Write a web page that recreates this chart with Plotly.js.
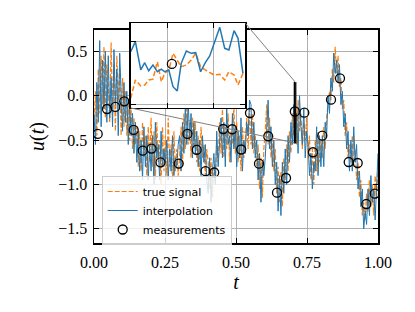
<!DOCTYPE html>
<html><head><meta charset="utf-8">
<script src="https://cdn.plot.ly/plotly-3.0.1.min.js"></script>
<style>html,body{margin:0;padding:0;background:#fff}</style>
</head><body><div id="chart" style="width:415px;height:312px"></div>
<script>
// ---- data ----
const trueSignal = [
 -0.35, 0.05, -0.45, 0.30, -0.20, 0.45, -0.10, 0.55, -0.25, 0.35,
 0.10, -0.30, 0.60, -0.20, 0.35, -0.40, 0.45, -0.05, 0.30, -0.45,
 0.20, -0.35, 0.05, -0.45, -0.05, -0.50, -0.15, -0.60, -0.25, -0.55,
 -0.35, -0.80, -0.40, -0.85, -0.30, -0.70, -0.45, -0.90, -0.35, -0.75,
 -0.25, -0.80, -0.40, -0.95, -0.30, -0.75, -0.50, -1.00, -0.35, -0.85,
 -0.45, -0.90, -0.25, -0.80, -0.55, -0.95, -0.40, -0.85, -0.60, -0.90,
 -0.70, -0.35, -0.80, -0.20, -0.60, -0.15, -0.55, -0.30, -0.70, -0.25,
 -0.60, -0.30, -0.75, -0.45, -0.85, -0.35, -0.70, -0.55, -0.90, -0.60,
 -0.75, -1.05, -0.70, -1.15, -0.80, -0.95, -0.50, -0.75, -0.30, -0.65,
 -0.15, -0.70, -0.35, -0.60, -0.20, -0.75, -0.40, -0.55, -0.10, -0.65,
 -0.30, -0.75, -0.45, -0.85, -0.35, -0.70, -0.50, -0.25, -0.60, -0.15,
 -0.55, -0.20, -0.65, -0.45, -0.80, -0.55, -1.05, -0.70, -1.15, -0.60,
 -0.40, -0.10, -0.55, -0.25, -0.70, -0.45, -0.85, -0.60, -1.10, -0.80,
 -1.20, -0.85, -1.25, -0.70, -0.95, -0.55, -0.85, -0.40, -0.65, -0.20,
 -0.45, -0.15, -0.55, -0.05, -0.40, -0.20, -0.60, -0.30, -0.50, -0.25,
 -0.70, -0.45, -0.95, -0.60, -1.00, -0.50, -0.85, -0.40, -0.75, -0.50,
 -0.70, -0.35, -0.60, -0.25, -0.10, 0.05, -0.05, 0.30, 0.15, 0.55,
 0.25, 0.45, 0.10, 0.20, -0.15, -0.05, -0.45, -0.30, -0.70, -0.55,
 -0.75, -0.45, -0.80, -0.60, -0.95, -0.75, -1.15, -0.95, -1.35, -1.20,
 -1.40, -1.10, -1.30, -0.95, -1.25, -1.00, -1.35, -0.90, -1.15, -0.80
];
const interpolation = [
 -0.20, -0.55, 0.15, -0.30, 0.62, -0.35, 0.40, -0.15, 0.50, -0.30,
 0.45, -0.25, 0.20, -0.35, 0.52, -0.10, 0.30, -0.45, 0.48, 0.00,
 -0.40, 0.15, -0.30, 0.05, -0.55, -0.10, -0.45, -0.20, -0.65, -0.30,
 -0.75, -0.40, -0.85, -0.50, -0.95, -0.35, -0.80, -0.45, -0.95, -0.55,
 -0.85, -0.45, -1.00, -0.30, -0.70, -0.55, -0.95, -0.40, -0.80, -0.60,
 -0.75, -0.50, -0.95, -0.60, -0.85, -0.45, -0.90, -0.70, -0.80, -0.55,
 -0.45, -0.85, -0.30, -0.65, -0.10, -0.55, -0.05, -0.50, -0.20, -0.70,
 -0.30, -0.65, -0.40, -0.80, -0.50, -0.90, -0.45, -0.75, -0.55, -0.95,
 -1.10, -0.70, -1.20, -0.85, -0.65, -1.00, -0.40, -0.80, -0.55, -0.25,
 -0.70, -0.30, -0.80, -0.15, -0.55, -0.45, -0.75, -0.20, -0.60, -0.35,
 -0.80, -0.40, -0.70, -0.25, -0.85, -0.50, -0.65, -0.30, -0.45, -0.05,
 -0.10, -0.60, -0.30, -0.70, -0.50, -0.95, -0.65, -1.20, -0.75, -0.90,
 -0.70, -0.30, -0.05, -0.60, -0.35, -0.80, -0.50, -1.00, -0.75, -1.30,
 -0.90, -1.35, -0.75, -1.10, -0.60, -1.00, -0.45, -0.75, -0.30, -0.55,
 -0.10, -0.50, -0.20, -0.65, 0.00, -0.35, -0.55, -0.15, -0.70, -0.40,
 -0.55, -0.90, -0.65, -1.05, -0.75, -0.85, -0.35, -0.90, -0.45, -0.80,
 -0.45, -0.80, -0.30, -0.45, 0.00, -0.20, 0.20, 0.05, 0.48, 0.25,
 0.40, 0.15, 0.35, -0.10, 0.05, -0.35, -0.20, -0.60, -0.40, -0.85,
 -0.50, -0.85, -0.35, -0.75, -0.55, -1.05, -0.85, -1.25, -1.05, -1.50,
 -1.30, -1.45, -1.05, -1.35, -0.90, -1.20, -1.05, -1.40, -0.95, -0.65
];
const measT = [0.0130, 0.0458, 0.0750, 0.1067, 0.1398, 0.1715, 0.2025, 0.2342, 0.2982, 0.3292,
 0.3616, 0.3926, 0.4232, 0.4549, 0.4866, 0.5183, 0.5493, 0.5810, 0.6134, 0.6444,
 0.6761, 0.7072, 0.7405, 0.7711, 0.8039, 0.8345, 0.8662, 0.8968, 0.9285, 0.9588, 0.9884];
const measU = [-0.431, -0.150, -0.127, -0.063, -0.386, -0.619, -0.595, -0.750, -0.764, -0.431,
 -0.609, -0.850, -0.865, -0.375, -0.378, -0.606, -0.195, -0.766, -0.457, -1.092,
 -0.927, -0.178, -0.191, -0.637, -0.450, -0.045, 0.196, -0.747, -0.758, -1.220, -1.104];

const insetT = [0.70544, 0.70564, 0.70587, 0.70604, 0.70621, 0.70639, 0.70658, 0.70675, 0.70689, 0.70707,
 0.70725, 0.70743, 0.70760, 0.70782, 0.70803, 0.70822, 0.70843, 0.70863, 0.70882, 0.70900,
 0.70925, 0.70946, 0.70964, 0.70986, 0.71003, 0.71024];
const insetTrue = [-0.453, -0.306, -0.354, -0.346, -0.306, -0.300, -0.160, -0.320, -0.253, -0.226,
 -0.093, -0.146, -0.200, -0.186, -0.146, -0.093, -0.200, -0.226, -0.248, -0.266,
 -0.261, -0.306, -0.240, -0.266, -0.346, -0.253];
const insetInterp = [-0.080, 0.000, -0.226, -0.168, -0.232, -0.186, -0.240, -0.220, -0.240, -0.226,
 -0.360, -0.394, -0.173, -0.074, -0.093, -0.088, -0.240, -0.168, -0.114, -0.013,
 0.115, -0.053, -0.066, 0.088, 0.027, -0.253];

const xTickVals = [0, 0.25, 0.5, 0.75, 1.0];
const yTickVals = [-1.5, -1.0, -0.5, 0.0, 0.5];
const insetXTicks = [0.707, 0.709];
const insetYTicks = [-0.5, 0.0];

// ---- layout constants ----
const xRange = [0, 1];
const yRange = [-1.659, 0.740];
const mainYDomain = [0, 0.9552];
const insetXRange = [0.70544, 0.71034];
const insetYRange = [-0.530, 0.147];
const insetXDomain = [0.1292, 0.5327];
const insetYDomain = [0.6054, 0.9852];

const N = trueSignal.length;
const t = trueSignal.map((_, i) => i / (N - 1));

const blue = '#1f77b4', orange = '#ff7f0e';
const serif = 'Liberation Serif, Times New Roman, serif';

const traces = [
  {x: t, y: trueSignal, type: 'scatter', mode: 'lines', name: 'true signal',
   line: {color: orange, width: 1.2, dash: '5px,2px'}, xaxis: 'x', yaxis: 'y'},
  {x: t, y: interpolation, type: 'scatter', mode: 'lines', name: 'interpolation',
   line: {color: blue, width: 1}, xaxis: 'x', yaxis: 'y'},
  {x: measT, y: measU, type: 'scatter', mode: 'markers', name: 'measurements',
   marker: {symbol: 'circle', size: 9, color: 'rgba(0,0,0,0)', line: {color: '#000', width: 1.3}},
   xaxis: 'x', yaxis: 'y'},
  {x: insetT, y: insetTrue, type: 'scatter', mode: 'lines', showlegend: false,
   line: {color: orange, width: 1.5, dash: '5px,2.5px'}, xaxis: 'x2', yaxis: 'y2'},
  {x: insetT, y: insetInterp, type: 'scatter', mode: 'lines', showlegend: false,
   line: {color: blue, width: 1.5}, xaxis: 'x2', yaxis: 'y2'},
  {x: measT, y: measU, type: 'scatter', mode: 'markers', showlegend: false,
   marker: {symbol: 'circle', size: 9, color: 'rgba(0,0,0,0)', line: {color: '#000', width: 1.3}},
   xaxis: 'x2', yaxis: 'y2', cliponaxis: true}
];

function paperY(u) {
  return mainYDomain[0] + (u - yRange[0]) / (yRange[1] - yRange[0]) * (mainYDomain[1] - mainYDomain[0]);
}
function paperX(v) {
  return (v - xRange[0]) / (xRange[1] - xRange[0]);
}

const shapes = [
  {type: 'rect', xref: 'x', yref: 'y', x0: insetXRange[0], x1: insetXRange[1],
   y0: insetYRange[0], y1: insetYRange[1], line: {color: '#000', width: 1.3}, layer: 'above'},
  {type: 'line', xref: 'paper', yref: 'paper', x0: insetXDomain[1], y0: insetYDomain[1],
   x1: paperX(insetXRange[1]), y1: paperY(insetYRange[1]), line: {color: '#808080', width: 1}, layer: 'above'},
  {type: 'line', xref: 'paper', yref: 'paper', x0: insetXDomain[0], y0: insetYDomain[0],
   x1: paperX(insetXRange[0]), y1: paperY(insetYRange[0]), line: {color: '#808080', width: 1}, layer: 'above'}
];

const axCommon = {
  showline: true, linecolor: '#000', linewidth: 1.5, mirror: 'allticks',
  ticks: 'inside', ticklen: 5, tickwidth: 1, tickcolor: '#000',
  showgrid: true, gridcolor: '#b0b0b0', gridwidth: 1, zeroline: false,
  tickfont: {family: serif, size: 16, color: '#000'}
};

const layout = {
  width: 415, height: 312,
  margin: {l: 94, r: 37, t: 20, b: 69},
  paper_bgcolor: '#fff', plot_bgcolor: '#fff',
  showlegend: true,
  xaxis: Object.assign({}, axCommon, {
    range: xRange, domain: [0, 1], tickmode: 'array', tickvals: xTickVals,
    tickformat: '.2f', ticklabelstandoff: 4, anchor: 'y',
    title: {text: '<i>t</i>', font: {family: serif, size: 20, color: '#000'}, standoff: 4}
  }),
  yaxis: Object.assign({}, axCommon, {
    range: yRange, domain: mainYDomain, tickmode: 'array', tickvals: yTickVals,
    tickformat: '.1f', ticklabelstandoff: 2, anchor: 'x',
    title: {text: '<i>u</i>(<i>t</i>)', font: {family: serif, size: 20, color: '#000'}, standoff: 8}
  }),
  xaxis2: Object.assign({}, axCommon, {
    range: insetXRange, domain: insetXDomain, anchor: 'y2', tickmode: 'array',
    tickvals: insetXTicks, showticklabels: false
  }),
  yaxis2: Object.assign({}, axCommon, {
    range: insetYRange, domain: insetYDomain, anchor: 'x2', tickmode: 'array',
    tickvals: insetYTicks, showticklabels: false
  }),
  shapes: shapes,
  legend: {
    x: 0.0271, y: 0.3004, xanchor: 'left', yanchor: 'top',
    bgcolor: 'rgba(255,255,255,0.8)', bordercolor: '#cccccc', borderwidth: 1,
    font: {family: 'DejaVu Sans, sans-serif', size: 11, color: '#000'},
    tracegroupgap: 0
  }
};

Plotly.newPlot('chart', traces, layout, {staticPlot: true, displayModeBar: false});
</script>
</body></html>
